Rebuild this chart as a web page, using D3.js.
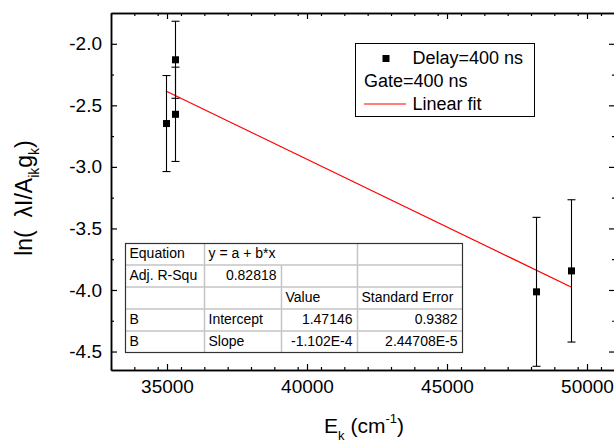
<!DOCTYPE html>
<html>
<head>
<meta charset="utf-8">
<script src="https://cdn.jsdelivr.net/npm/d3@7"></script>
<style>
  body{margin:0;background:#fff;}
  text{font-family:"Liberation Sans",Arial,sans-serif;}
</style>
</head>
<body>
<svg id="chart" width="614" height="446"></svg>
<script>
// values
var energies = [34960, 35280, 35280, 48180, 49430];
var lnValues = [-2.648, -2.130, -2.573, -4.015, -3.845];
var errors   = [0.390, 0.313, 0.383, 0.605, 0.578];

var fitX = [34960, 49430];
var fitY = [-2.384, -3.976];

var xTicks = [35000, 40000, 45000, 50000];
var yTicks = [-4.5, -4.0, -3.5, -3.0, -2.5, -2.0];

var legendLabels = ["Delay=400 ns", "Gate=400 ns", "Linear fit"];

var tableRows = [
  ["Equation", "y = a + b*x", "", ""],
  ["Adj. R-Squ", "0.82818", "", ""],
  ["", "", "Value", "Standard Error"],
  ["B", "Intercept", "1.47146", "0.9382"],
  ["B", "Slope", "-1.102E-4", "2.44708E-5"]
];

function draw(){
  var margin = {top:13, bot:370, left:111, right:615};
  var svg = d3.select("#chart");

  var xScale = d3.scaleLinear()
                 .domain([33000, 51000])
                 .range([margin.left, margin.right]);
  var yScale = d3.scaleLinear()
                 .domain([-4.65, -1.75])
                 .range([margin.bot, margin.top]);

  var xMinor = d3.range(33000, 51000, 5000/6).filter(function(d){
    return Math.abs(d % 5000) > 1 && Math.abs(d % 5000) < 4999;
  });
  var yMinor = d3.range(-4.5, -1.75, 0.25).filter(function(d){
    return Math.abs(d*2 - Math.round(d*2)) > 0.01;
  });

  // ticks without labels (minor ones everywhere, majors on top and right)
  function bareAxis(axis, vals, size, tr){
    var g = svg.append("g")
       .attr("class","bare")
       .attr("transform", tr)
       .call(axis.tickValues(vals).tickSize(size).tickSizeOuter(0));
    g.selectAll("text").remove();
  }
  bareAxis(d3.axisBottom(xScale), xMinor, -3, "translate(0,"+margin.bot+")");
  bareAxis(d3.axisTop(xScale), xMinor, -3, "translate(0,"+margin.top+")");
  bareAxis(d3.axisLeft(yScale), yMinor, -3, "translate("+margin.left+",0)");
  bareAxis(d3.axisRight(yScale), yMinor, -3, "translate("+margin.right+",0)");
  bareAxis(d3.axisTop(xScale), xTicks, -6, "translate(0,"+margin.top+")");
  bareAxis(d3.axisRight(yScale), yTicks, -6, "translate("+margin.right+",0)");

  var xAxis = d3.axisBottom(xScale).tickValues(xTicks).tickSize(-6)
                .tickSizeOuter(0).tickPadding(10).tickFormat(d3.format("d"));
  var yAxis = d3.axisLeft(yScale).tickValues(yTicks).tickSize(-6)
                .tickSizeOuter(0).tickPadding(9)
                .tickFormat(function(d){ return d3.format(".1f")(d).replace("\u2212","-"); });

  svg.append("g")
     .attr("class","x axis")
     .attr("transform","translate(0,"+margin.bot+")")
     .call(xAxis);
  svg.append("g")
     .attr("class","y axis")
     .attr("transform","translate("+margin.left+",0)")
     .call(yAxis);

  svg.selectAll(".axis path, .bare path").attr("stroke","#000").attr("stroke-width",1.5);
  svg.selectAll(".axis line, .bare line").attr("stroke","#000").attr("stroke-width",1.2);
  svg.selectAll(".axis text")
     .attr("font-size",19)
     .attr("fill","#000")
     .attr("font-family","Liberation Sans, Arial, sans-serif");

  // fit line
  var lineMaker = d3.line()
                    .x(function(d){return xScale(d.x);})
                    .y(function(d){return yScale(d.y);});
  var fitPts = fitX.map(function(d,i){ return {x:d, y:fitY[i]}; });
  svg.append("path")
     .attr("d", lineMaker(fitPts))
     .attr("stroke","#ff0000")
     .attr("stroke-width",1.2)
     .attr("fill","none");

  // error bars + squares
  var pts = energies.map(function(d,i){
    return {x:d, y:lnValues[i], e:errors[i]};
  });
  var bars = svg.append("g").attr("class","errbars");
  pts.forEach(function(p){
    var cx = Math.round(xScale(p.x)) + 0.5;
    var y1 = yScale(p.y + p.e), y2 = yScale(p.y - p.e);
    bars.append("line").attr("x1",cx).attr("x2",cx).attr("y1",y1).attr("y2",y2);
    [y1, y2].forEach(function(yy){
      bars.append("line").attr("x1",cx-4).attr("x2",cx+4).attr("y1",yy).attr("y2",yy);
    });
  });
  bars.selectAll("line").attr("stroke","#000").attr("stroke-width",1.1);

  svg.selectAll("rect.pt")
     .data(pts)
     .enter()
     .append("rect")
     .attr("class","pt")
     .attr("x",function(d){return Math.round(xScale(d.x)) + 0.5 - 3.5;})
     .attr("y",function(d){return yScale(d.y) - 3.5;})
     .attr("width",7)
     .attr("height",7)
     .attr("fill","#000");

  // legend
  var lg = svg.append("g").attr("class","legend");
  lg.append("rect")
    .attr("x",355.5).attr("y",43.5).attr("width",179).attr("height",73)
    .attr("fill","#fff").attr("stroke","#000").attr("stroke-width",1);
  lg.append("rect")
    .attr("x",382.5).attr("y",55).attr("width",7).attr("height",7).attr("fill","#000");
  lg.append("line")
    .attr("x1",364).attr("x2",406).attr("y1",104).attr("y2",104)
    .attr("stroke","#ff0000").attr("stroke-width",1.2);
  lg.selectAll("text")
    .data(legendLabels)
    .enter()
    .append("text")
    .attr("x",function(d,i){ return i===1 ? 364 : 412.5; })
    .attr("y",function(d,i){ return [64, 87, 110][i]; })
    .attr("font-size",18)
    .text(function(d){return d;});

  // results table
  var colX = [125.5, 204.5, 281.5, 357.5, 462.5];
  var rowY = [243.5, 265, 287, 309, 331, 352.5];
  var tb = svg.append("g").attr("class","table");
  tb.append("rect")
    .attr("x",colX[0]).attr("y",rowY[0])
    .attr("width",colX[4]-colX[0]).attr("height",rowY[5]-rowY[0])
    .attr("fill","#fff");
  rowY.slice(1,5).forEach(function(yy){
    tb.append("line").attr("x1",colX[0]).attr("x2",colX[4]).attr("y1",yy).attr("y2",yy);
  });
  tb.append("line").attr("x1",colX[1]).attr("x2",colX[1]).attr("y1",rowY[0]).attr("y2",rowY[5]);
  tb.append("line").attr("x1",colX[2]).attr("x2",colX[2]).attr("y1",rowY[1]).attr("y2",rowY[5]);
  tb.append("line").attr("x1",colX[3]).attr("x2",colX[3]).attr("y1",rowY[0]).attr("y2",rowY[5]);
  tb.selectAll("line").attr("stroke","#c4c4c4").attr("stroke-width",1.5);
  tb.append("rect")
    .attr("x",colX[0]).attr("y",rowY[0])
    .attr("width",colX[4]-colX[0]).attr("height",rowY[5]-rowY[0])
    .attr("fill","none").attr("stroke","#333").attr("stroke-width",1.2);

  var numeric = /^-?[0-9.]+(E-?[0-9]+)?$/;
  tableRows.forEach(function(row,r){
    row.forEach(function(cell,c){
      if(cell==="") return;
      var right = numeric.test(cell);
      tb.append("text")
        .attr("x", right ? colX[c+1]-5 : colX[c]+4)
        .attr("y", rowY[r]+14.5)
        .attr("text-anchor", right ? "end" : "start")
        .attr("font-size",14)
        .attr("fill","#000")
        .text(cell);
    });
  });

  // axis titles
  var xt = svg.append("text")
              .attr("x",364).attr("y",433)
              .attr("text-anchor","middle")
              .attr("font-size",21);
  xt.append("tspan").text("E");
  xt.append("tspan").attr("dy",7).attr("font-size",13).text("k");
  xt.append("tspan").attr("dy",-7).text(" (cm");
  xt.append("tspan").attr("dy",-10).attr("font-size",13).text("-1");
  xt.append("tspan").attr("dy",10).text(")");

  var yt = svg.append("text")
              .attr("transform","translate(32,198) rotate(-90)")
              .attr("text-anchor","middle")
              .attr("font-size",23);
  yt.append("tspan").text("ln(\u00a0\u00a0\u03bbI/A");
  yt.append("tspan").attr("dy",7).attr("font-size",14).text("ik");
  yt.append("tspan").attr("dy",-7).text("g");
  yt.append("tspan").attr("dy",7).attr("font-size",14).text("k");
  yt.append("tspan").attr("dy",-7).text(")");
}

draw();
</script>
</body>
</html>
